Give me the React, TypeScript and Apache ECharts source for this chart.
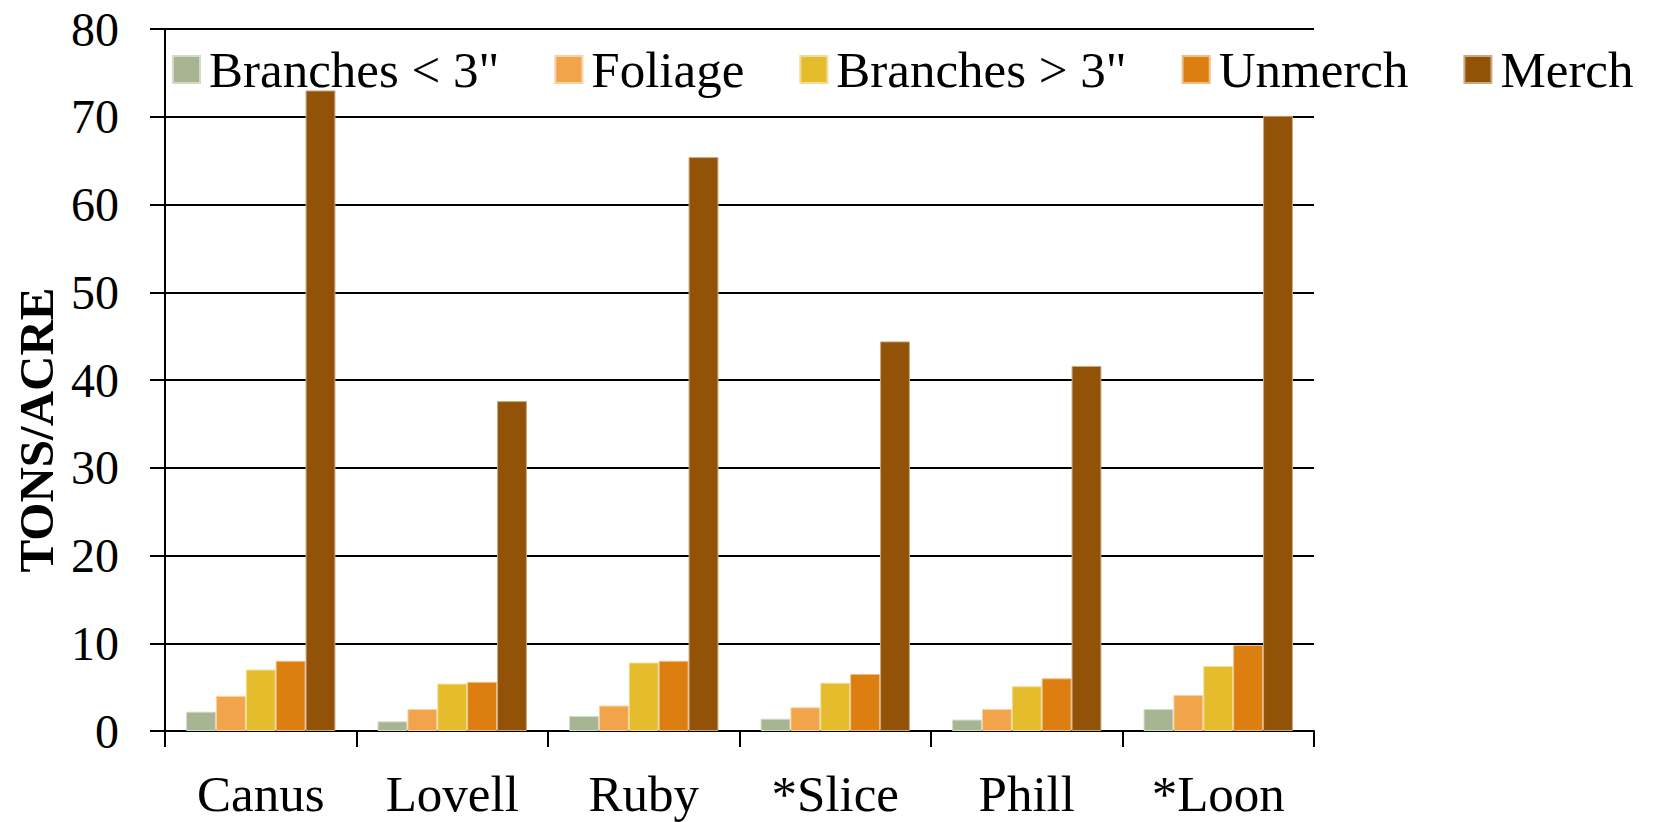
import React, { useEffect, useRef } from "react";
import * as echarts from "echarts";

const categories = ["Canus", "Lovell", "Ruby", "*Slice", "Phill", "*Loon"];
const branchesSmall = [2.2, 1.1, 1.7, 1.4, 1.3, 2.5];
const foliage = [4.0, 2.5, 2.9, 2.7, 2.5, 4.1];
const branchesLarge = [7.0, 5.4, 7.8, 5.5, 5.1, 7.4];
const unmerch = [8.0, 5.6, 8.0, 6.5, 6.0, 9.8];
const merch = [73.0, 37.6, 65.4, 44.4, 41.6, 70.1];
const yTicks = [0, 10, 20, 30, 40, 50, 60, 70, 80];

const seriesDefs = [
  { name: 'Branches < 3"', data: branchesSmall, color: "#A8B592", border: "#D4DAC8" },
  { name: "Foliage", data: foliage, color: "#F2A44B", border: "#F8D2A5" },
  { name: 'Branches > 3"', data: branchesLarge, color: "#E4BC2C", border: "#F1DD95" },
  { name: "Unmerch", data: unmerch, color: "#DD7E10", border: "#EEBE87" },
  { name: "Merch", data: merch, color: "#925309", border: "#C8A984" },
];

const FONT = '"Liberation Serif", "Times New Roman", serif';

export default function App() {
  const ref = useRef<HTMLDivElement>(null);
  useEffect(() => {
    if (!ref.current) return;
    const chart = echarts.init(ref.current, null, { renderer: "svg" });
    chart.setOption({
      animation: false,
      backgroundColor: "#ffffff",
      grid: { left: 165, right: 350, top: 29, bottom: 91, containLabel: false },
      legend: {
        left: 172,
        top: 44,
        padding: 0,
        itemWidth: 27,
        itemHeight: 27,
        itemGap: 55,
        icon: "rect",
        textStyle: { fontFamily: FONT, fontSize: 51, color: "#000", padding: [0, 0, 0, 4] },
        data: seriesDefs.map((s) => s.name),
      },
      graphic: [
        {
          type: "text",
          x: 36,
          y: 430,
          rotation: Math.PI / 2,
          style: {
            text: "TONS/ACRE",
            fontFamily: FONT,
            fontWeight: "bold",
            fontSize: 49,
            fill: "#000",
            textAlign: "center",
            textVerticalAlign: "middle",
          },
        },
      ],
      xAxis: {
        type: "category",
        data: categories,
        axisLine: { show: true, lineStyle: { color: "#000", width: 2 } },
        axisTick: { show: true, length: 16, interval: 0, lineStyle: { color: "#000", width: 2 } },
        axisLabel: { fontFamily: FONT, fontSize: 51, color: "#000", margin: 37, interval: 0 },
      },
      yAxis: {
        type: "value",
        min: yTicks[0],
        max: yTicks[yTicks.length - 1],
        interval: 10,
        axisLine: { show: true, lineStyle: { color: "#000", width: 2 } },
        axisTick: { show: true, length: 15, lineStyle: { color: "#000", width: 2 } },
        axisLabel: { fontFamily: FONT, fontSize: 48, color: "#000", margin: 46 },
        splitLine: { show: true, lineStyle: { color: "#000", width: 2 } },
      },
      series: seriesDefs.map((s) => ({
        type: "bar",
        name: s.name,
        data: s.data,
        barGap: "0%",
        barCategoryGap: "22%",
        itemStyle: { color: s.color, borderColor: s.border, borderWidth: 1 },
      })),
    });
    return () => chart.dispose();
  }, []);
  return (
    <div
      ref={ref}
      style={{ position: "fixed", left: 0, top: 0, width: 1664, height: 822, background: "#fff" }}
    />
  );
}
